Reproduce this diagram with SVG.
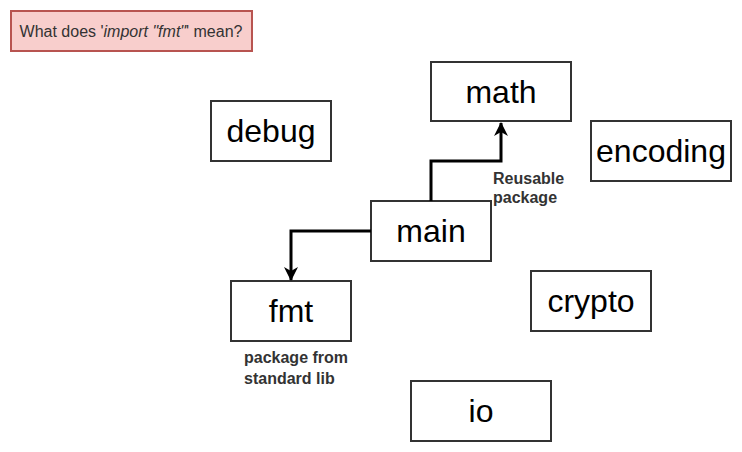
<svg xmlns="http://www.w3.org/2000/svg" width="742" height="452" viewBox="0 0 742 452">
<defs>
<style>
.node rect{fill:#ffffff;stroke:#333333;stroke-width:2}
.node text{font-family:"Liberation Sans",Arial,sans-serif;font-size:32px;fill:#000000;text-anchor:middle}
.lbl{font-family:"Liberation Sans",Arial,sans-serif;font-size:16px;font-weight:bold;fill:#333333}
.edge{fill:none;stroke:#000000;stroke-width:3}
</style>
<marker id="arr" markerWidth="14" markerHeight="14" refX="13" refY="7" orient="auto" markerUnits="userSpaceOnUse" viewBox="0 0 14 14">
<path d="M0,0 L14,7 L0,14 L4,7 Z" fill="#000000"/>
</marker>
</defs>
<rect width="742" height="452" fill="#ffffff"/>
<g id="title">
<rect x="11" y="11" width="241" height="40" fill="#f8cecc" stroke="#b85450" stroke-width="2"/>
<text x="131" y="37" font-family="'Liberation Sans',Arial,sans-serif" font-size="16" fill="#333333" text-anchor="middle">What does '<tspan font-style="italic">import "fmt"</tspan>' mean?</text>
</g>
<g id="debug" class="node"><rect x="211" y="101" width="120" height="60"/><text x="271" y="142">debug</text></g>
<g id="math" class="node"><rect x="431" y="62" width="140" height="59"/><text x="501" y="103">math</text></g>
<g id="encoding" class="node"><rect x="591" y="121" width="140" height="60"/><text x="661" y="162">encoding</text></g>
<g id="main" class="node"><rect x="371" y="201" width="120" height="60"/><text x="431" y="242">main</text></g>
<g id="fmt" class="node"><rect x="231" y="281" width="120" height="60"/><text x="291" y="322">fmt</text></g>
<g id="crypto" class="node"><rect x="531" y="271" width="120" height="60"/><text x="591" y="312">crypto</text></g>
<g id="io" class="node"><rect x="411" y="381" width="140" height="60"/><text x="481" y="422">io</text></g>
<g id="connectors">
<path class="edge" d="M431,201 L431,161 L501,161 L501,123" marker-end="url(#arr)"/>
<path class="edge" d="M371,231 L291,231 L291,280" marker-end="url(#arr)"/>
<text class="lbl" x="493" y="184">Reusable</text>
<text class="lbl" x="493" y="203">package</text>
<text class="lbl" x="244" y="363">package from</text>
<text class="lbl" x="244" y="384">standard lib</text>
</g>
</svg>
